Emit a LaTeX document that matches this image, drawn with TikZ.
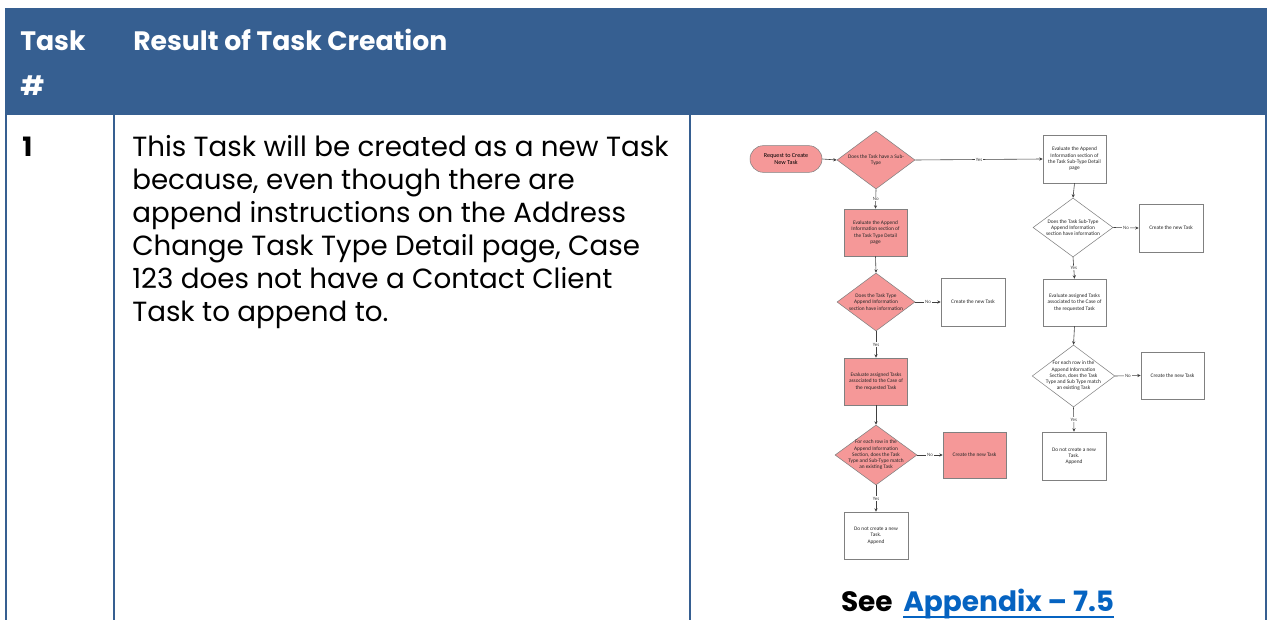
\documentclass[tikz,border=0pt]{standalone}
\usepackage{fontspec}
\setmainfont{Poppins}
\newfontfamily\flowfont{Carlito}
\usetikzlibrary{shapes.geometric,arrows.meta}
\definecolor{hdrblue}{RGB}{54,95,145}
\definecolor{pinkfill}{RGB}{245,152,152}
\definecolor{linkblue}{RGB}{5,99,193}
\definecolor{shapeline}{RGB}{128,128,128}
\definecolor{arrowline}{RGB}{64,64,64}
\begin{document}
\begin{tikzpicture}[x=0.75pt,y=-0.75pt,
  fbox/.style={draw=shapeline,line width=0.4pt,minimum width=47.25pt,minimum height=35.25pt,inner sep=0pt},
  pinkbox/.style={fbox,fill=pinkfill},
  whitebox/.style={fbox,fill=white},
  fdiam/.style={diamond,draw=shapeline,line width=0.4pt,inner sep=0pt},
  ftext/.style={font=\flowfont\fontsize{4}{4.7}\selectfont,align=center,text=black!85,inner sep=0pt},
  flow/.style={draw=arrowline,line width=0.45pt,-{Stealth[length=2.6pt,width=2.4pt]}},
  flab/.style={font=\flowfont\fontsize{3.7}{4}\selectfont,fill=white,inner sep=0.6pt,text=black!75},
  bodytxt/.style={anchor=base west,inner sep=0pt,font=\fontsize{20.8}{24}\selectfont},
  hdrtxt/.style={anchor=base west,inner sep=0pt,text=white,font=\bfseries\fontsize{20}{24}\selectfont},
  tblline/.style={draw=hdrblue,line width=1.5pt},
]
\useasboundingbox (0,0) rectangle (1268,620);
% table
\fill[hdrblue] (5,8) rectangle (1267,115);
\draw[tblline] (6,115) -- (6,620);
\draw[tblline] (113.5,115) -- (113.5,620);
\draw[tblline] (689.5,115) -- (689.5,620);
\draw[tblline] (1266,115) -- (1266,620);
% header texts
\node[hdrtxt] (h1) at (20,51) {Task};
\node[hdrtxt] (h2) at (20,96) {\#};
\node[hdrtxt] (h3) at (133,51) {Result of Task Creation};
% body
\node[hdrtxt,text=black] (n1) at (22,157) {1};
\node[bodytxt] (l1) at (132,157) {This Task will be created as a new Task};
\node[bodytxt] (l2) at (132,190) {because, even though there are};
\node[bodytxt] (l3) at (132,223) {append instructions on the Address};
\node[bodytxt] (l4) at (132,256) {Change Task Type Detail page, Case};
\node[bodytxt] (l5) at (132,289) {123 does not have a Contact Client};
\node[bodytxt] (l6) at (132,322) {Task to append to.};
% flowchart left column
\node[draw=shapeline,line width=0.4pt,fill=pinkfill,rounded corners=10pt,minimum width=54pt,minimum height=20pt,inner sep=0pt,font=\flowfont\fontsize{4.6}{5.4}\selectfont,align=center] (term) at (786,159) {Request to Create\\New Task};
\node[fdiam,fill=pinkfill,minimum width=58.5pt,minimum height=43.5pt] (d1) at (876,160) {};
\node[ftext] at (d1) {Does the Task have a Sub-\\Type};
\node[pinkbox] (b1) at (875.5,232.5) {};
\node[ftext] at (b1) {Evaluate the Append\\Information section of\\the Task Type Detail\\page};
\node[fdiam,fill=pinkfill,minimum width=58.5pt,minimum height=43.5pt] (d2) at (876,302) {};
\node[ftext] at (d2) {Does the Task Type\\Append Information\\section have information};
\node[whitebox,minimum width=48pt,minimum height=36pt] (c1) at (973,302) {};
\node[ftext] at (c1) {Create the new Task};
\node[pinkbox] (b2) at (876,381.5) {};
\node[ftext] at (b2) {Evaluate assigned Tasks\\associated to the Case of\\the requested Task};
\node[fdiam,fill=pinkfill,minimum width=61.5pt,minimum height=45pt] (d3) at (876,455) {};
\node[ftext] at (d3) {For each row in the\\Append Information\\Section, does the Task\\Type and Sub-Type match\\an existing Task};
\node[pinkbox,minimum height=34.5pt] (c2) at (974.5,455) {};
\node[ftext] at (c2) {Create the new Task};
\node[whitebox,minimum width=48pt] (e1) at (876,535.5) {};
\node[ftext] at (e1) {Do not create a new\\Task.\\Append};
% flowchart right column
\node[whitebox,minimum height=36pt] (rb1) at (1074.5,159) {};
\node[ftext] at (rb1) {Evaluate the Append\\Information section of\\the Task Sub-Type Detail\\page};
\node[fdiam,fill=white,minimum width=60pt,minimum height=44.25pt] (rd1) at (1073,227.5) {};
\node[ftext] at (rd1) {Does the Task Sub-Type\\Append Information\\section have information};
\node[whitebox,minimum width=48pt,minimum height=36pt] (rc1) at (1171,228) {};
\node[ftext] at (rc1) {Create the new Task};
\node[whitebox] (rb2) at (1074.5,302.5) {};
\node[ftext] at (rb2) {Evaluate assigned Tasks\\associated to the Case of\\the requested Task};
\node[fdiam,fill=white,minimum width=62pt,minimum height=46.5pt] (rd2) at (1073.5,376) {};
\node[ftext] at (rd2) {For each row in the\\Append Information\\Section, does the Task\\Type and Sub Type match\\an existing Task};
\node[whitebox] (rc2) at (1172.5,375.5) {};
\node[ftext] at (rc2) {Create the new Task};
\node[whitebox,minimum width=48pt,minimum height=36pt] (re1) at (1074,456) {};
\node[ftext] at (re1) {Do not create a new\\Task.\\Append};
% connectors
\draw[flow] (term.east) -- (d1.west);
\draw[flow] (d1.east) -- node[flab] {Yes} (rb1.west);
\draw[flow] (d1.south) -- node[flab] {No} (b1.north);
\draw[flow] (b1.south) -- (d2.north);
\draw[flow] (d2.east) -- node[flab] {No} (c1.west);
\draw[flow] (d2.south) -- node[flab] {Yes} (b2.north);
\draw[flow] (b2.south) -- (d3.north);
\draw[flow] (d3.east) -- node[flab] {No} (c2.west);
\draw[flow] (d3.south) -- node[flab] {Yes} (e1.north);
\draw[flow] (rb1.south) -- (rd1.north);
\draw[flow] (rd1.east) -- node[flab] {No} (rc1.west);
\draw[flow] (rd1.south) -- node[flab] {Yes} (rb2.north);
\draw[flow] (rb2.south) -- (rd2.north);
\draw[flow] (rd2.east) -- node[flab] {No} (rc2.west);
\draw[flow] (rd2.south) -- node[flab] {Yes} (re1.north);
% appendix reference
\node[anchor=base east,inner sep=0pt,font=\bfseries\fontsize{21}{24}\selectfont] (see) at (893,611) {See};
\node[anchor=base west,inner sep=0pt,text=linkblue,font=\bfseries\fontsize{21}{24}\selectfont] (app) at (903,611) {Appendix – 7.5};
\draw[linkblue,line width=1.5pt] ([yshift=-4.5pt]app.base west) -- ([yshift=-4.5pt]app.base east);
\end{tikzpicture}
\end{document}
